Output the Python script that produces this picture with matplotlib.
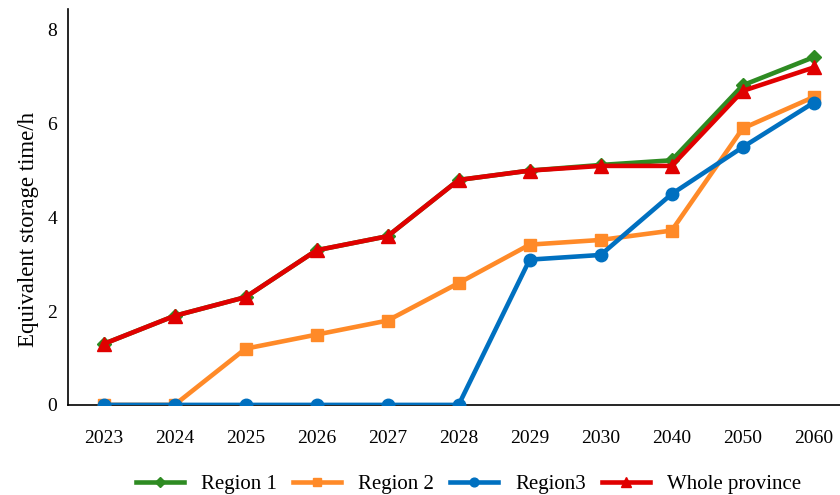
import numpy as np
import matplotlib.pyplot as plt

plt.rcParams["font.family"] = ["Liberation Serif", "DejaVu Serif"]

years = ["2023", "2024", "2025", "2026", "2027", "2028", "2029", "2030", "2040", "2050", "2060"]
region1 = [1.3, 1.9, 2.3, 3.3, 3.6, 4.8, 5.0, 5.12, 5.22, 6.82, 7.42]
region2 = [0, 0, 1.2, 1.5, 1.8, 2.6, 3.42, 3.52, 3.72, 5.9, 6.57]
region3 = [0, 0, 0, 0, 0, 0, 3.1, 3.2, 4.5, 5.5, 6.45]
province = [1.3, 1.9, 2.3, 3.3, 3.6, 4.8, 5.0, 5.1, 5.1, 6.7, 7.2]

x = np.arange(len(years))

fig = plt.figure(figsize=(8.4, 4.95), dpi=100)
ax = fig.add_axes([0.081, 0.182, 0.93, 0.80])

ax.plot(x, region1, color="#2E8B22", lw=3.3, marker="D", ms=7.5, label="Region 1")
ax.plot(x, region2, color="#FF8A28", lw=3.3, marker="s", ms=9, label="Region 2")
ax.plot(x, region3, color="#0070C0", lw=3.3, marker="o", ms=9, label="Region3")
ax.plot(x, province, color="#E00000", lw=3.3, marker="^", ms=10, label="Whole province")

ax.set_xticks(x)
ax.set_xticklabels(years)
ax.set_xlim(-0.5, 10.5)
ax.set_ylim(0, 8.45)
ax.set_yticks([0, 2, 4, 6, 8])
ax.set_ylabel("Equivalent storage time/h", fontsize=16.5)
ax.yaxis.set_label_coords(-0.037, 0.442)
ax.tick_params(length=0, labelsize=14)
ax.tick_params(axis="x", pad=18)
ax.tick_params(axis="y", pad=8)
ax.spines["top"].set_visible(False)
ax.spines["right"].set_visible(False)
ax.spines["left"].set_linewidth(1.2)
ax.spines["bottom"].set_linewidth(1.2)
ax.spines["bottom"].set_zorder(0)

fig.legend(loc="center", bbox_to_anchor=(0.558, 0.022), ncol=4, frameon=False,
           fontsize=15, handlelength=2.3, handletextpad=0.8, columnspacing=0.8,
           markerscale=0.7)

fig.savefig("out.png", dpi=100)
